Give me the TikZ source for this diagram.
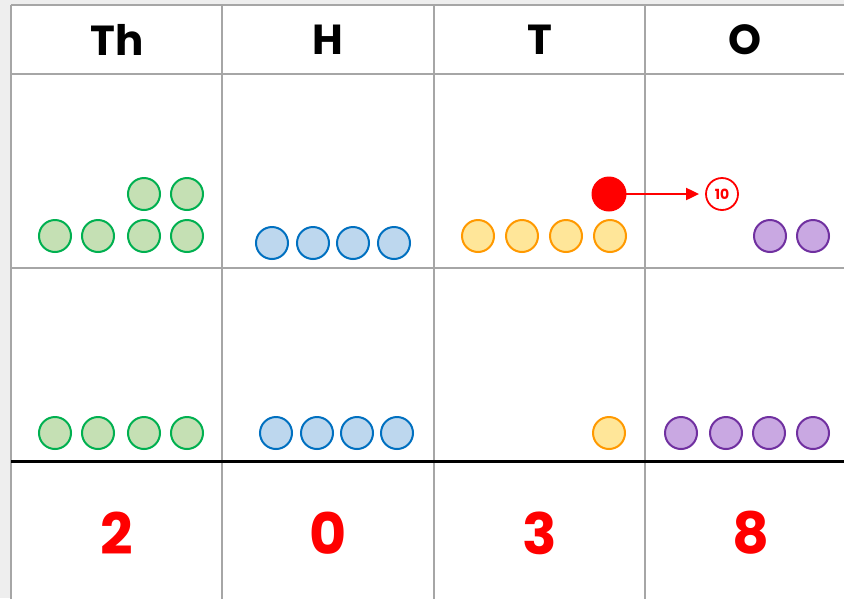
\documentclass[tikz,border=0pt]{standalone}
\usepackage{fontspec}
\setmainfont{Poppins}
\usetikzlibrary{arrows.meta}
\definecolor{gridgrey}{HTML}{A6A6A6}
\definecolor{bggrey}{HTML}{EEEEEE}
\definecolor{gfill}{HTML}{C5E0B4}
\definecolor{gline}{HTML}{00B050}
\definecolor{bfill}{HTML}{BDD7EE}
\definecolor{bline}{HTML}{0070C0}
\definecolor{ofill}{HTML}{FFE699}
\definecolor{oline}{HTML}{FF9900}
\definecolor{pfill}{HTML}{C9A8E2}
\definecolor{pline}{HTML}{7030A0}
\definecolor{myred}{HTML}{FF0000}
\tikzset{
  counter/.style={circle, inner sep=0pt, minimum size=32pt, line width=2pt},
  gc/.style={counter, draw=gline, fill=gfill},
  bc/.style={counter, draw=bline, fill=bfill},
  oc/.style={counter, draw=oline, fill=ofill},
  pc/.style={counter, draw=pline, fill=pfill},
  gridline/.style={draw=gridgrey, line width=2pt},
  head/.style={font=\fontsize{42}{42}\selectfont\bfseries, text=black, inner sep=0pt},
  digit/.style={font=\fontsize{57}{57}\selectfont\bfseries, text=myred, inner sep=0pt},
}
\begin{document}
\begin{tikzpicture}[x=1pt,y=-1pt]
\useasboundingbox (0,0) rectangle (844,598);
\fill[bggrey] (0,0) rectangle (844,598);
\fill[white] (11,5) rectangle (870,610);
% grid
\draw[gridline] (11,5) -- (870,5);
\draw[gridline] (11,5) -- (11,610);
\draw[gridline] (11,74) -- (870,74);
\draw[gridline] (11,268) -- (870,268);
\draw[gridline] (222,5) -- (222,610);
\draw[gridline] (434,5) -- (434,610);
\draw[gridline] (645,5) -- (645,610);
\draw[black, line width=3pt] (11,461) -- (870,461);
% headers
\node[head] (hTh) at (117,40) {Th};
\node[head] (hH) at (328,40) {H};
\node[head] (hT) at (540,40) {T};
\node[head] (hO) at (745,40) {O};
% top row counters
\node[gc] (g5) at (144,194) {};
\node[gc] (g6) at (187,194) {};
\node[gc] (g1) at (55,236) {};
\node[gc] (g2) at (98,236) {};
\node[gc] (g3) at (144,236) {};
\node[gc] (g4) at (187,236) {};
\node[bc] (b1) at (272,243) {};
\node[bc] (b2) at (313,243) {};
\node[bc] (b3) at (353,243) {};
\node[bc] (b4) at (394,243) {};
\node[oc] (o1) at (478,236) {};
\node[oc] (o2) at (522,236) {};
\node[oc] (o3) at (566,236) {};
\node[oc] (o4) at (610,236) {};
\node[pc] (p1) at (770,236) {};
\node[pc] (p2) at (813,236) {};
% regroup
\node[circle, fill=myred, inner sep=0pt, minimum size=35pt] (red) at (609,194) {};
\node[circle, draw=myred, line width=1.8pt, fill=white, inner sep=0pt, minimum size=32pt,
      font=\fontsize{14}{14}\selectfont\bfseries, text=myred] (ten) at (722,194) {10};
\draw[myred, line width=2pt, -{Triangle[length=13pt,width=12pt]}, shorten >=6pt] (red.center) -- (ten);
% bottom row counters
\node[gc] (gb1) at (55,433) {};
\node[gc] (gb2) at (98,433) {};
\node[gc] (gb3) at (144,433) {};
\node[gc] (gb4) at (187,433) {};
\node[bc] (bb1) at (276,433) {};
\node[bc] (bb2) at (317,433) {};
\node[bc] (bb3) at (357,433) {};
\node[bc] (bb4) at (397,433) {};
\node[oc] (ob1) at (609,433) {};
\node[pc] (pb1) at (681,433) {};
\node[pc] (pb2) at (726,433) {};
\node[pc] (pb3) at (769,433) {};
\node[pc] (pb4) at (813,433) {};
% digits
\node[digit] (d1) at (117,533) {2};
\node[digit] (d2) at (328,533) {0};
\node[digit] (d3) at (540,533) {3};
\node[digit] (d4) at (751,533) {8};
\end{tikzpicture}
\end{document}
